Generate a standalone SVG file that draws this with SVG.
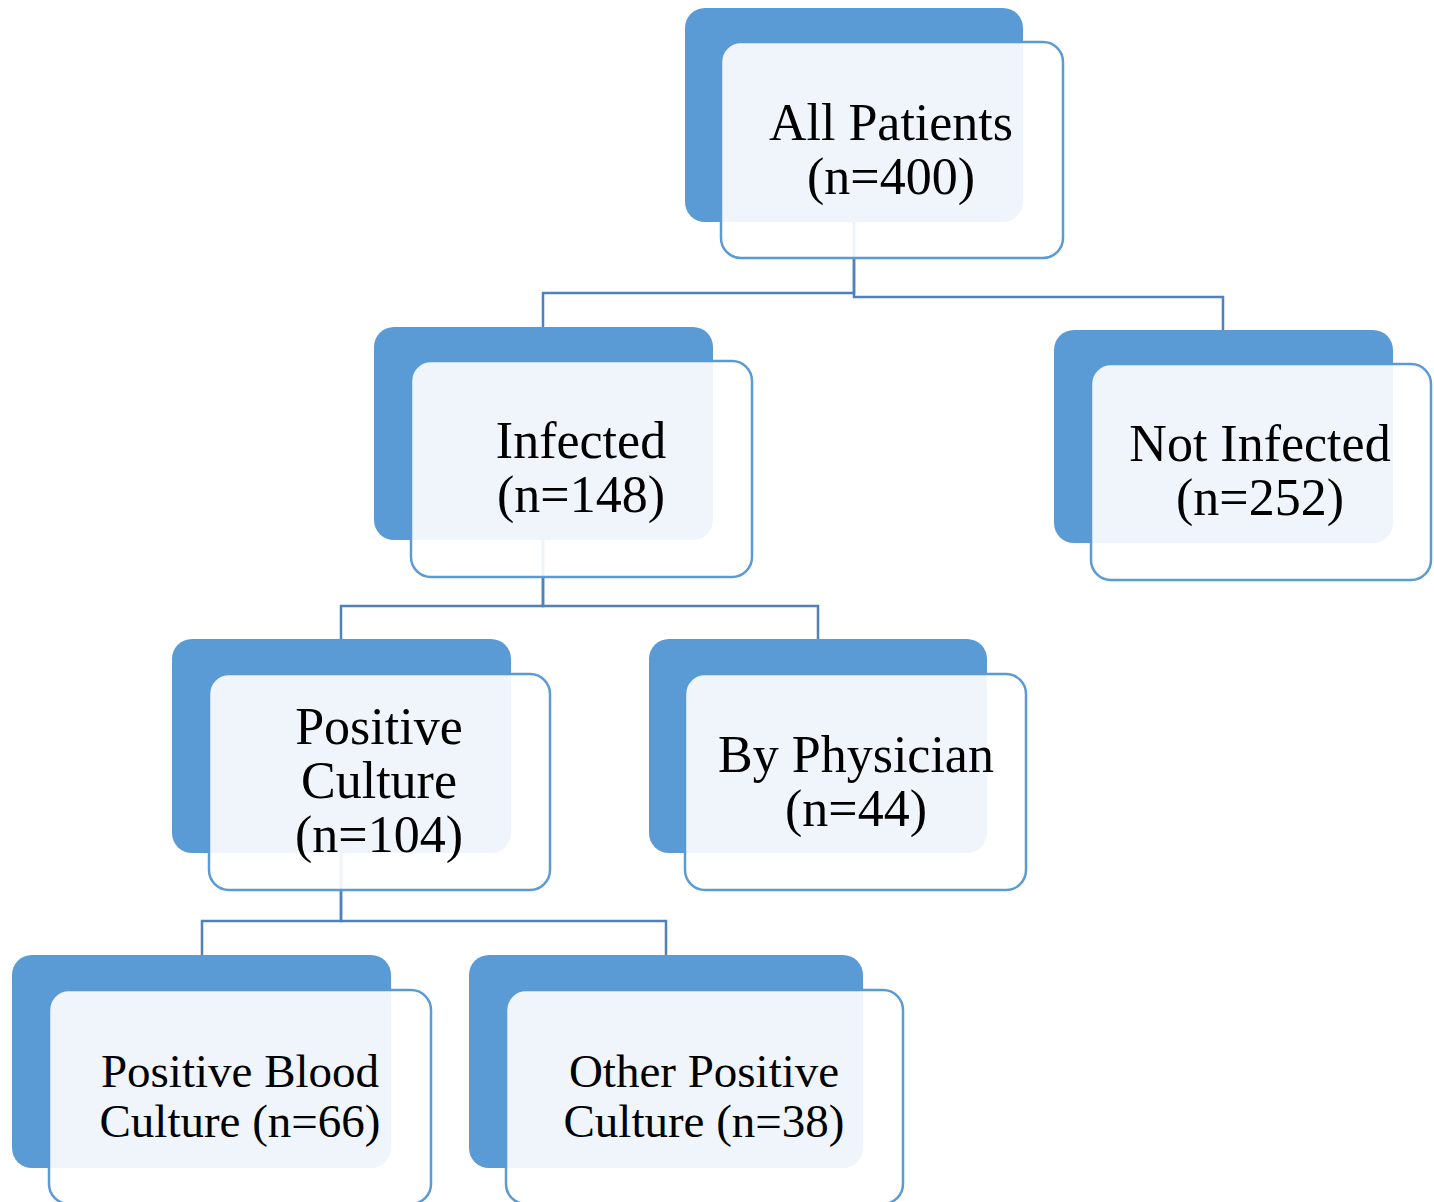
<svg xmlns="http://www.w3.org/2000/svg" width="1434" height="1202" viewBox="0 0 1434 1202">
<style>
.back{fill:#5B9BD5}
.front{fill:#FFFFFF;fill-opacity:0.9;stroke:#5B9BD5;stroke-width:2.5}
.conn{fill:none;stroke:#4F81BD;stroke-width:2.5}
.lbl{font-family:"Liberation Serif","Times New Roman",serif;font-size:52px;fill:#000;text-anchor:middle}
.sm{font-size:47px}
</style>
<rect width="1434" height="1202" fill="#FFFFFF"/>
<g id="connectors">
<path class="conn" d="M854,222 V293 H543 V327"/>
<path class="conn" d="M854,222 V297 H1223 V330"/>
<path class="conn" d="M543,540 V606 H341 V639"/>
<path class="conn" d="M543,540 V606 H818 V639"/>
<path class="conn" d="M341,853 V921 H202 V955"/>
<path class="conn" d="M341,853 V921 H666 V955"/>
</g>
<g id="all-patients">
<rect class="back" x="685" y="8" width="338" height="214" rx="20"/>
<rect class="front" x="721" y="42" width="342" height="216" rx="20"/>
<text class="lbl" x="891" y="140">All Patients</text>
<text class="lbl" x="891" y="194">(n=400)</text>
</g>
<g id="infected">
<rect class="back" x="374" y="327" width="339" height="213" rx="20"/>
<rect class="front" x="411" y="361" width="341" height="216" rx="20"/>
<text class="lbl" x="581" y="458">Infected</text>
<text class="lbl" x="581" y="512">(n=148)</text>
</g>
<g id="not-infected">
<rect class="back" x="1054" y="330" width="339" height="213" rx="20"/>
<rect class="front" x="1091" y="364" width="340" height="216" rx="20"/>
<text class="lbl" x="1260" y="461">Not Infected</text>
<text class="lbl" x="1260" y="515">(n=252)</text>
</g>
<g id="positive-culture">
<rect class="back" x="172" y="639" width="339" height="214" rx="20"/>
<rect class="front" x="209" y="674" width="341" height="216" rx="20"/>
<text class="lbl" x="379" y="744">Positive</text>
<text class="lbl" x="379" y="798">Culture</text>
<text class="lbl" x="379" y="852">(n=104)</text>
</g>
<g id="by-physician">
<rect class="back" x="649" y="639" width="338" height="214" rx="20"/>
<rect class="front" x="685" y="674" width="341" height="216" rx="20"/>
<text class="lbl" x="856" y="772">By Physician</text>
<text class="lbl" x="856" y="826">(n=44)</text>
</g>
<g id="positive-blood-culture">
<rect class="back" x="12" y="955" width="379" height="213" rx="20"/>
<rect class="front" x="49" y="990" width="382" height="214" rx="20"/>
<text class="lbl sm" x="240" y="1087">Positive Blood</text>
<text class="lbl sm" x="240" y="1137">Culture (n=66)</text>
</g>
<g id="other-positive-culture">
<rect class="back" x="469" y="955" width="394" height="213" rx="20"/>
<rect class="front" x="506" y="990" width="397" height="214" rx="20"/>
<text class="lbl sm" x="704" y="1087">Other Positive</text>
<text class="lbl sm" x="704" y="1137">Culture (n=38)</text>
</g>
</svg>
